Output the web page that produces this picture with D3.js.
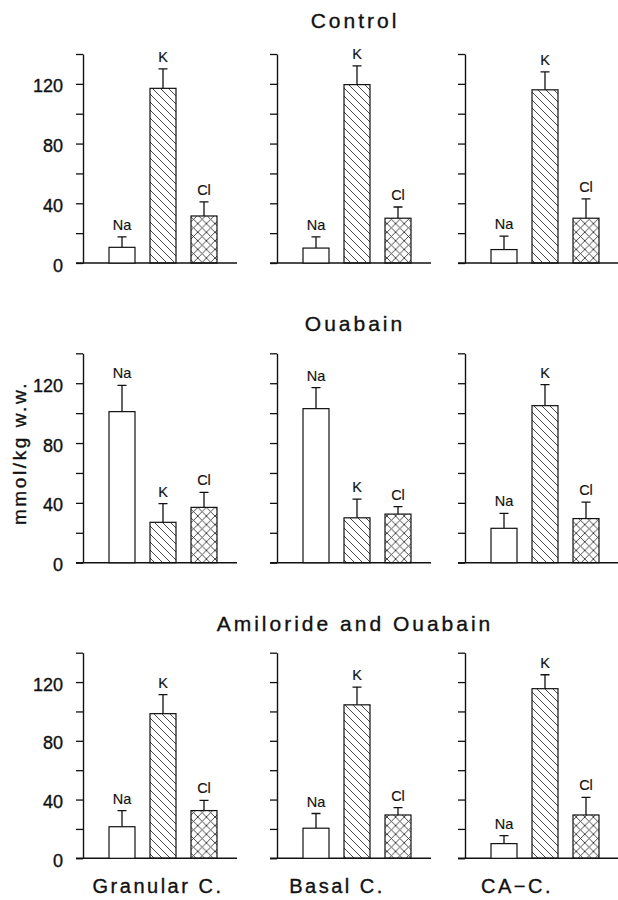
<!DOCTYPE html>
<html>
<head>
<meta charset="utf-8">
<script src="https://cdn.jsdelivr.net/npm/d3@7"></script>
<style>
  body { margin: 0; background: #fff; }
  text { font-family: "Liberation Sans", Arial, sans-serif; fill: #111; stroke: #111; stroke-width: 0.35px; }
</style>
</head>
<body>
<svg id="root" width="618" height="900"></svg>
<script>
const ions = ["Na", "K", "Cl"];
const cells = ["Granular C.", "Basal C.", "CA-C."];
const treatments = ["Control", "Ouabain", "Amiloride and Ouabain"];
const yTicks = [0, 20, 40, 60, 80, 100, 120, 140];
const yLabels = ["0", "", "40", "", "80", "", "120", ""];

// means per cell type, order Na, K, Cl
const controlMean = [[10.5, 117, 31.5], [10, 119.5, 30], [9, 116, 30]];
const controlErr  = [[7, 13, 9.5], [7.5, 12.5, 7.5], [9, 12, 13]];
const ouabainMean = [[101, 27, 37], [103, 30, 32.5], [23, 105, 29.5]];
const ouabainErr  = [[17.5, 12.5, 10], [14, 12.5, 5], [10, 14, 11]];
const amilMean    = [[21.5, 98.5, 32.5], [20.5, 104.5, 29.5], [10, 115.5, 29.5]];
const amilErr     = [[11, 13, 7], [10, 12, 5], [5.5, 9.5, 12]];

const means = [controlMean, ouabainMean, amilMean];
const errs = [controlErr, ouabainErr, amilErr];

const svg = d3.select("#root");
const defs = svg.append("defs");

// diagonal hatch for K
const hatch = defs.append("pattern")
  .attr("id", "hatch").attr("patternUnits", "userSpaceOnUse")
  .attr("width", 8).attr("height", 8);
hatch.append("path")
  .attr("d", "M-2,-2 L10,10 M-2,6 L2,10 M6,-2 L10,2")
  .attr("stroke", "#333").attr("stroke-width", 0.9);

// cross hatch for Cl
const cross = defs.append("pattern")
  .attr("id", "cross").attr("patternUnits", "userSpaceOnUse")
  .attr("width", 8.6).attr("height", 8.6);
cross.append("path")
  .attr("d", "M-2,-2 L10.6,10.6 M-2,6.6 L2,10.6 M6.6,-2 L10.6,2 M-2,10.6 L10.6,-2 M-2,2 L2,-2 M6.6,10.6 L10.6,6.6")
  .attr("stroke", "#333").attr("stroke-width", 0.9);

const fills = { Na: "#fff", K: "url(#hatch)", Cl: "url(#cross)" };

const axisX = [83, 277, 465];
const rowY = [[54, 263], [353.3, 562.7], [652.7, 858.3]];
const titleY = [28, 331, 631];
const titleX = 355;
const cellLabelX = [158, 337, 517];

treatments.forEach((t, r) => {
  svg.append("text")
    .attr("x", titleX).attr("y", titleY[r])
    .attr("text-anchor", "middle")
    .attr("font-size", 21)
    .attr("letter-spacing", 3)
    .text(t);

  const y = d3.scaleLinear().domain([0, 140]).range([rowY[r][1], rowY[r][0]]);

  cells.forEach((c, ci) => {
    const ax = axisX[ci];
    const x = d3.scaleBand().domain(ions)
      .range([ax + 18.5, ax + 141.5])
      .paddingInner(0.366).paddingOuter(0.183);

    const g = svg.append("g");

    const axis = d3.axisLeft(y).tickValues(yTicks).tickSize(7).tickSizeOuter(0).tickPadding(13)
      .tickFormat((d, i) => ci === 0 ? yLabels[i] : "");
    const ag = g.append("g").attr("transform", `translate(${ax},0)`).call(axis);
    ag.select(".domain").attr("stroke", "#111").attr("stroke-width", 1.4);
    ag.selectAll(".tick line").attr("stroke", "#111").attr("stroke-width", 1.3);
    ag.selectAll(".tick text")
      .attr("font-size", 18).attr("font-family", "Liberation Sans, Arial, sans-serif")
      .attr("fill", "#111").attr("dy", "0.45em");

    // baseline
    g.append("line")
      .attr("x1", ax - 7).attr("x2", ax + 154)
      .attr("y1", y(0)).attr("y2", y(0))
      .attr("stroke", "#111").attr("stroke-width", 1.4);

    const data = ions.map((ion, k) => ({ ion, v: means[r][ci][k], e: errs[r][ci][k] }));

    // error bars
    g.selectAll(".err").data(data).enter().append("path")
      .attr("d", d => {
        const cx = x(d.ion) + x.bandwidth() / 2;
        return `M${cx},${y(d.v)} V${y(d.v + d.e)} M${cx - 4.5},${y(d.v + d.e)} H${cx + 4.5}`;
      })
      .attr("fill", "none").attr("stroke", "#111").attr("stroke-width", 1.3);

    g.selectAll(".bar").data(data).enter().append("rect")
      .attr("x", d => x(d.ion))
      .attr("width", x.bandwidth())
      .attr("y", d => y(d.v))
      .attr("height", d => y(0) - y(d.v))
      .attr("fill", d => fills[d.ion])
      .attr("stroke", "#111").attr("stroke-width", 1.2);

    g.selectAll(".lab").data(data).enter().append("text")
      .attr("x", d => x(d.ion) + x.bandwidth() / 2)
      .attr("y", d => y(d.v + d.e) - 7)
      .attr("text-anchor", "middle")
      .attr("font-size", 14.5)
      .style("stroke-width", "0.15px")
      .text(d => d.ion);
  });
});

cells.forEach((c, ci) => {
  svg.append("text")
    .attr("x", cellLabelX[ci]).attr("y", 893)
    .attr("text-anchor", "middle")
    .attr("font-size", 20)
    .attr("letter-spacing", 2.5)
    .text(c.replace("-", "\u2212"));
});

svg.append("text")
  .attr("transform", "translate(26,453) rotate(-90)")
  .attr("text-anchor", "middle")
  .attr("font-size", 19)
  .attr("letter-spacing", 2.6)
  .text("mmol/kg w.w.");
</script>
</body>
</html>
